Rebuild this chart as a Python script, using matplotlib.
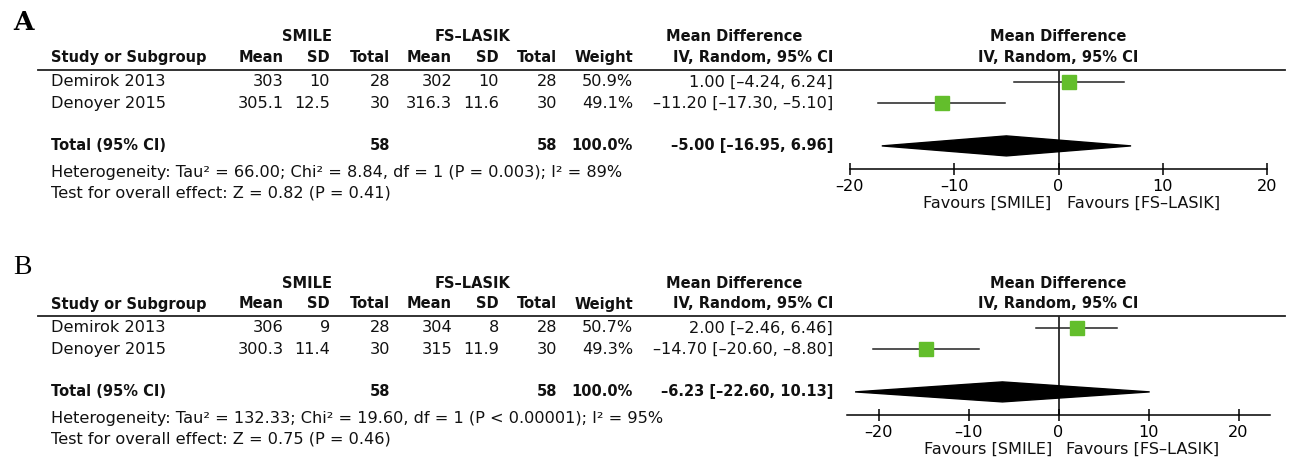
import matplotlib
matplotlib.use("Agg")
import matplotlib.pyplot as plt
from matplotlib.patches import Polygon
from matplotlib.transforms import blended_transform_factory

W, H = 1290, 457
plt.rcParams["font.family"] = "DejaVu Sans"
FS = 11.6
FSB = 10.5
GREEN = "#63BE2C"

studies = ["Demirok 2013", "Denoyer 2015"]

# panel A
a_smile_mean = [303, 305.1]
a_smile_sd = [10, 12.5]
a_smile_n = [28, 30]
a_fs_mean = [302, 316.3]
a_fs_sd = [10, 11.6]
a_fs_n = [28, 30]
a_weight = [50.9, 49.1]
a_md = [1.00, -11.20]
a_lo = [-4.24, -17.30]
a_hi = [6.24, -5.10]
a_total = [-5.00, -16.95, 6.96]
a_het = "Heterogeneity: Tau² = 66.00; Chi² = 8.84, df = 1 (P = 0.003); I² = 89%"
a_test = "Test for overall effect: Z = 0.82 (P = 0.41)"

# panel B
b_smile_mean = [306, 300.3]
b_smile_sd = [9, 11.4]
b_smile_n = [28, 30]
b_fs_mean = [304, 315]
b_fs_sd = [8, 11.9]
b_fs_n = [28, 30]
b_weight = [50.7, 49.3]
b_md = [2.00, -14.70]
b_lo = [-2.46, -20.60]
b_hi = [6.46, -8.80]
b_total = [-6.23, -22.60, 10.13]
b_het = "Heterogeneity: Tau² = 132.33; Chi² = 19.60, df = 1 (P < 0.00001); I² = 95%"
b_test = "Test for overall effect: Z = 0.75 (P = 0.46)"

ticks = [-20, -10, 0, 10, 20]


def num(v, fmt="{:g}"):
    return fmt.format(v).replace("-", "–")


def ci_text(md, lo, hi):
    return f"{num(md, '{:.2f}')} [{num(lo, '{:.2f}')}, {num(hi, '{:.2f}')}]"


fig = plt.figure(figsize=(W / 100, H / 100), dpi=100)

# row geometry (pixels)
ROW = 21.3


def u(dy):
    # dy: pixels below the first study row
    return dy / ROW


def draw_panel(letter, letter_font, line_px, xlim, ax_left, ax_right,
               sm, ssd, sn, fm, fsd, fn, wt, md, lo, hi, tot, het, test):
    row1 = line_px + 12
    axis_px = line_px + 99
    ax = fig.add_axes([ax_left / W, 1 - axis_px / H,
                       (ax_right - ax_left) / W, (axis_px - line_px) / H])
    u_top = u(line_px - row1)
    u_bot = u(axis_px - row1)
    ax.set_xlim(*xlim)
    ax.set_ylim(u_bot, u_top)
    for s in ["top", "left", "right"]:
        ax.spines[s].set_visible(False)
    ax.spines["bottom"].set_linewidth(1.1)
    ax.set_yticks([])
    ax.set_xticks(ticks)
    ax.set_xticklabels([num(t) for t in ticks])
    ax.tick_params(axis="x", direction="inout", length=8, width=1.1,
                   labelsize=FS, pad=3)
    ax.patch.set_alpha(0)
    ax.axvline(0, color="black", lw=1.1)

    tr = blended_transform_factory(fig.transFigure, ax.transData)

    def put(xpx, yy, s, ha="right", bold=False):
        ax.text(xpx / W, yy, s, transform=tr, ha=ha, va="center",
                fontsize=FSB if bold else FS,
                fontweight="bold" if bold else "normal",
                color="#111111", clip_on=False)

    # header
    h1 = u(line_px - 33 - row1)
    h2 = u(line_px - 12 - row1)
    put(307, h1, "SMILE", "center", True)
    put(473, h1, "FS–LASIK", "center", True)
    put(734, h1, "Mean Difference", "center", True)
    ax.text(0, h1, "Mean Difference", ha="center", va="center",
            fontsize=FSB, fontweight="bold", color="#111111", clip_on=False)
    put(51, h2, "Study or Subgroup", "left", True)
    cols = [284, 330, 390, 452, 499, 557, 633]
    for x, s in zip(cols, ["Mean", "SD", "Total", "Mean", "SD", "Total", "Weight"]):
        put(x, h2, s, "right", True)
    put(833, h2, "IV, Random, 95% CI", "right", True)
    ax.text(0, h2, "IV, Random, 95% CI", ha="center", va="center",
            fontsize=FSB, fontweight="bold", color="#111111", clip_on=False)
    ax.plot([38 / W, 1285 / W], [u_top, u_top], transform=tr, color="#222222",
            lw=1.3, clip_on=False)

    # study rows
    for i, name in enumerate(studies):
        put(51, i, name, "left")
        vals = [num(sm[i]), num(ssd[i]), num(sn[i]), num(fm[i]), num(fsd[i]),
                num(fn[i]), f"{wt[i]:.1f}%"]
        for x, s in zip(cols, vals):
            put(x, i, s, "right")
        put(833, i, ci_text(md[i], lo[i], hi[i]), "right")
        ax.plot([lo[i], hi[i]], [i, i], color="#222222", lw=1.1, zorder=2)
        ax.plot(md[i], i, marker="s", ms=9.6 * (wt[i] / 50) ** 0.5,
                color=GREEN, mec=GREEN, zorder=3)

    # total row
    yt = 3
    put(51, yt, "Total (95% CI)", "left", True)
    put(390, yt, num(sum(sn)), "right", True)
    put(557, yt, num(sum(fn)), "right", True)
    put(633, yt, f"{sum(wt):.1f}%", "right", True)
    put(833, yt, ci_text(*tot), "right", True)
    dh = 10 / ROW
    ax.add_patch(Polygon([(tot[1], yt), (tot[0], yt - dh), (tot[2], yt),
                          (tot[0], yt + dh)], closed=True, color="black",
                         zorder=3, clip_on=False))

    put(51, u(line_px + 102 - row1), het, "left")
    put(51, u(line_px + 123 - row1), test, "left")

    yf = u(line_px + 133 - row1)
    ax.text(-0.7, yf, "Favours [SMILE]", ha="right", va="center",
            fontsize=FS, color="#111111", clip_on=False)
    ax.text(0.8, yf, "Favours [FS–LASIK]", ha="left", va="center",
            fontsize=FS, color="#111111", clip_on=False)

    fig.text(13 / W, 1 - (line_px - 48) / H, letter, ha="left", va="center",
             **letter_font)


draw_panel("A", dict(family="DejaVu Serif", fontweight="bold", fontsize=19),
           70, (-20, 20), 850, 1267,
           a_smile_mean, a_smile_sd, a_smile_n, a_fs_mean, a_fs_sd, a_fs_n,
           a_weight, a_md, a_lo, a_hi, a_total, a_het, a_test)
draw_panel("B", dict(family="Liberation Serif", fontsize=20),
           316, (-23.5, 23.5), 847, 1270,
           b_smile_mean, b_smile_sd, b_smile_n, b_fs_mean, b_fs_sd, b_fs_n,
           b_weight, b_md, b_lo, b_hi, b_total, b_het, b_test)

fig.savefig("out.png", dpi=100, facecolor="white")
